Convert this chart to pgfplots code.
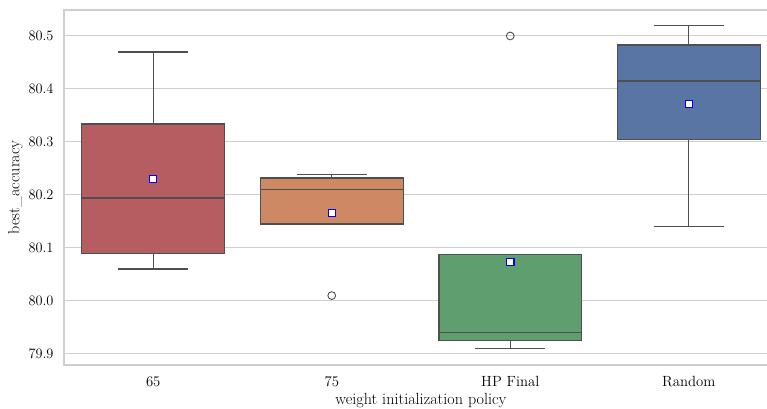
\documentclass[border=0pt]{standalone}
\usepackage{pgfplots}
\pgfplotsset{compat=1.18}
\usepgfplotslibrary{statistics}

\definecolor{boxred}{HTML}{B55D60}
\definecolor{boxorange}{HTML}{CC8963}
\definecolor{boxgreen}{HTML}{5F9E6E}
\definecolor{boxblue}{HTML}{5975A4}
\definecolor{edgegray}{HTML}{4F4F4F}
\definecolor{gridgray}{HTML}{CFCFCF}

\begin{document}
\begin{tikzpicture}
\begin{axis}[
  scale only axis,
  width=714bp, height=355bp,
  xmin=-0.5, xmax=3.5,
  ymin=79.879, ymax=80.549,
  xtick={0,1,2,3},
  xticklabels={65,75,HP Final,Random},
  ytick={79.9,80.0,80.1,80.2,80.3,80.4,80.5},
  yticklabel style={/pgf/number format/fixed,
    /pgf/number format/precision=1,
    /pgf/number format/fixed zerofill},
  ymajorgrids,
  grid style={gridgray, line width=1bp},
  axis line style={gridgray, line width=1.3bp},
  major tick length=0pt,
  tick label style={font=\fontsize{14.8}{17}\selectfont},
  label style={font=\fontsize{16.2}{18}\selectfont},
  xticklabel style={yshift=-8bp},
  yticklabel style={xshift=-7bp},
  xlabel={weight initialization policy},
  ylabel={best\_accuracy},
  xlabel style={yshift=1bp},
  ylabel style={yshift=-1bp},
  boxplot/draw direction=y,
  boxplot/box extend=0.8,
  boxplot/whisker extend=0.39,
]
% boxes: 65, 75, HP Final, Random
\addplot[boxplot prepared={draw position=0,
    lower whisker=80.06, lower quartile=80.09, median=80.194,
    upper quartile=80.334, upper whisker=80.47},
  fill=boxred, draw=edgegray, line width=1.3bp] coordinates {};
\addplot[boxplot prepared={draw position=1,
    lower whisker=80.145, lower quartile=80.145, median=80.21,
    upper quartile=80.232, upper whisker=80.238},
  fill=boxorange, draw=edgegray, line width=1.3bp] coordinates {};
\addplot[boxplot prepared={draw position=2,
    lower whisker=79.91, lower quartile=79.925, median=79.94,
    upper quartile=80.087, upper whisker=80.088},
  fill=boxgreen, draw=edgegray, line width=1.3bp] coordinates {};
\addplot[boxplot prepared={draw position=3,
    lower whisker=80.14, lower quartile=80.305, median=80.415,
    upper quartile=80.483, upper whisker=80.52},
  fill=boxblue, draw=edgegray, line width=1.3bp] coordinates {};

% outliers
\addplot[only marks, mark=o, mark size=3.9bp,
  mark options={draw=edgegray, fill=white, line width=0.9bp}]
  coordinates {(1,80.01) (2,80.5)};

% means
\addplot[only marks, mark=square*, mark size=3.7bp,
  mark options={draw=blue, fill=white, line width=1.1bp}]
  coordinates {(0,80.23) (1,80.166) (2,80.073) (3,80.372)};
\end{axis}
\pgfresetboundingbox
\path[use as bounding box] (-64bp,-44bp) rectangle (703bp,365bp);
\end{tikzpicture}
\end{document}
